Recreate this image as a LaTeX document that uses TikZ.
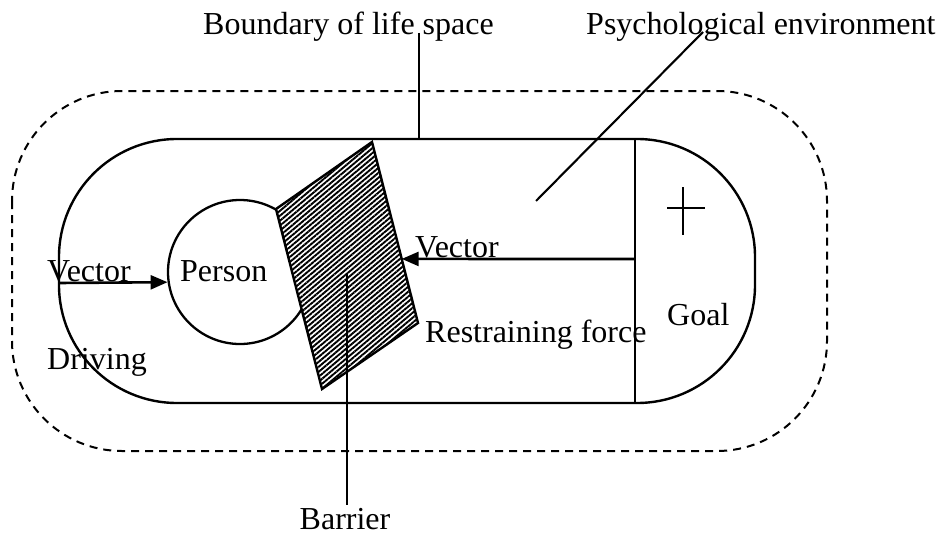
\documentclass[tikz,border=0pt]{standalone}
\usepackage{fontspec}
\setmainfont{Liberation Serif}
\usetikzlibrary{arrows.meta,patterns.meta,calc}
\begin{document}
\begin{tikzpicture}[x=1pt,y=-1pt,
  lbl/.style={inner sep=0pt,anchor=base west,font=\fontsize{32}{36}\selectfont},
  solidline/.style={line width=2.4pt},
  dashline/.style={line width=2pt,dash pattern=on 8pt off 6pt},
  vec/.style={line width=2.6pt,-{Triangle[length=17pt,width=14pt]}},
  leader/.style={line width=2.1pt}]
\useasboundingbox (0,0) rectangle (941,535);
% outer dashed boundary of life space
\draw[dashline,rounded corners=110pt] (12,91) rectangle (827,451);
% inner life space
\draw[solidline,rounded corners=118pt] (59,139) rectangle (755,403);
\coordinate (gTop) at (635,139);
\coordinate (gBot) at (635,403);
\draw[solidline] (gTop) -- (gBot);
% plus sign
\coordinate (pL) at (667,208); \coordinate (pR) at (705,208);
\coordinate (pT) at (683,187); \coordinate (pB) at (683,235);
\draw[line width=1.8pt] (pL) -- (pR) (pT) -- (pB);
% person
\node[draw,circle,line width=2.3pt,minimum size=144pt,inner sep=0pt] (person) at (240,272) {};
% barrier
\coordinate (bT) at (372,142);
\coordinate (bL) at (276,209);
\coordinate (bB) at (322,389);
\coordinate (bR) at (418,323);
\fill[white] (bT) -- (bL) -- (bB) -- (bR) -- cycle;
\fill[pattern={Lines[angle=40,distance=3.8pt,line width=1.9pt]}] (bT) -- (bL) -- (bB) -- (bR) -- cycle;
\draw[solidline,line join=miter] (bT) -- (bL) -- (bB) -- (bR) -- cycle;
% vectors
\coordinate (dStart) at (59,283);
\draw[vec] (dStart) -- (person.188.8);
\coordinate (rStart) at (635,259);
\draw[vec] (rStart) -- ($(bT)!0.646!(bR)$);
% labels
\node[lbl] (tBoundary) at (203,35) {Boundary of life space};
\node[lbl] (tPsych) at (586,35) {Psychological environment};
\node[lbl] (tVecL) at (47,281) {Vector};
\node[lbl] (tPerson) at (180,281) {Person};
\node[lbl] (tDriving) at (47,369) {Driving};
\node[lbl] (tVecR) at (415,257) {Vector};
\node[lbl] (tRestr) at (425,342) {Restraining force};
\node[lbl] (tGoal) at (667,325) {Goal};
\node[lbl,anchor=base] (tBarrier) at (345,529) {Barrier};
% leader lines
\coordinate (boundTop) at (419,33);
\draw[leader] (boundTop) -- (419,139);
\coordinate (psyTop) at (703,32);
\coordinate (psyBot) at (536,201);
\draw[leader] (psyTop) -- (psyBot);
\coordinate (barTop) at (347,273);
\coordinate (barBot) at (347,505);
\draw[leader] (barTop) -- (barBot);
\end{tikzpicture}
\end{document}
